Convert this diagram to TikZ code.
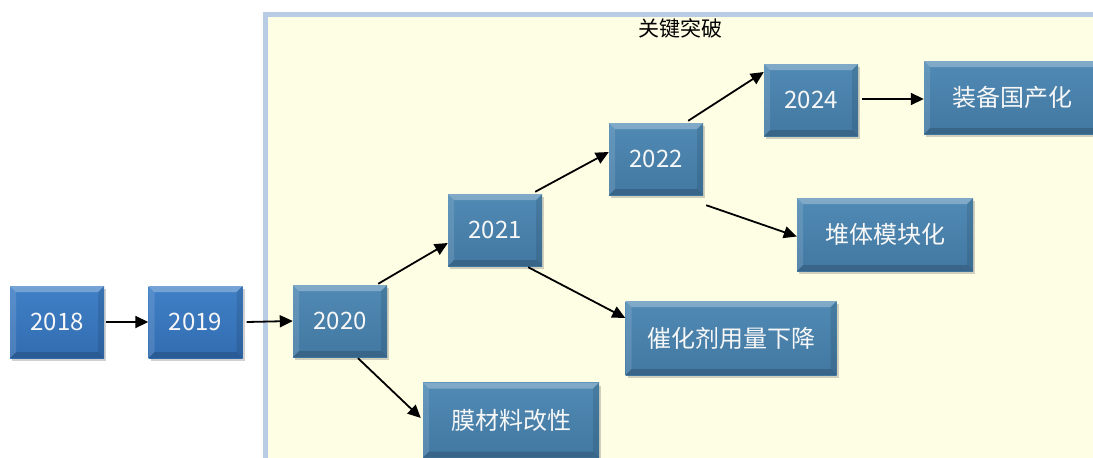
\documentclass[tikz,border=0pt]{standalone}
\usepackage{fontspec}
\newfontfamily\cjk{Noto Sans CJK SC}
\usetikzlibrary{arrows.meta,shadows}
\definecolor{blueA}{RGB}{64,128,198}
\definecolor{blueAd}{RGB}{50,108,176}
\definecolor{blueB}{RGB}{80,138,180}
\definecolor{blueBd}{RGB}{66,120,162}
\definecolor{panelfill}{RGB}{254,254,228}
\definecolor{panelline}{RGB}{184,204,230}
\tikzset{
  bevel/.style={path picture={
    \fill[white,opacity=.28] (path picture bounding box.north west) -- (path picture bounding box.north east) -- ([shift={(-6pt,-6pt)}]path picture bounding box.north east) -- ([shift={(6pt,-6pt)}]path picture bounding box.north west) -- cycle;
    \fill[white,opacity=.12] (path picture bounding box.north west) -- (path picture bounding box.south west) -- ([shift={(6pt,6pt)}]path picture bounding box.south west) -- ([shift={(6pt,-6pt)}]path picture bounding box.north west) -- cycle;
    \fill[black,opacity=.16] (path picture bounding box.south west) -- (path picture bounding box.south east) -- ([shift={(-6pt,6pt)}]path picture bounding box.south east) -- ([shift={(6pt,6pt)}]path picture bounding box.south west) -- cycle;
    \fill[black,opacity=.10] (path picture bounding box.north east) -- (path picture bounding box.south east) -- ([shift={(-6pt,6pt)}]path picture bounding box.south east) -- ([shift={(-6pt,-6pt)}]path picture bounding box.north east) -- cycle;
  }},
  boxbase/.style={bevel, inner sep=0pt, text=white!94!gray, font=\cjk\fontsize{24}{27}\selectfont,
    drop shadow={shadow xshift=2pt, shadow yshift=-3pt, opacity=.30, fill=black!60}},
  yearA/.style={boxbase, top color=blueA, bottom color=blueAd, minimum width=94pt, minimum height=72pt},
  yearB/.style={boxbase, top color=blueB, bottom color=blueBd, minimum width=94pt, minimum height=72pt},
  itembox/.style={boxbase, top color=blueB, bottom color=blueBd, minimum height=73pt},
  arr/.style={draw=black, line width=1.8pt, -{Triangle[length=13pt,width=12pt]}},
}
\begin{document}
\begin{tikzpicture}[x=1pt,y=-1pt]
\useasboundingbox (0,0) rectangle (1093,458);
\clip (0,0) rectangle (1093,458);
\fill[white] (0,0) rectangle (1093,458);
\draw[panelline, line width=5pt, fill=panelfill] (265,14) rectangle (1110,480);
\node[font=\cjk\fontsize{21}{24}\selectfont, text=black] (title) at (680,28) {关键突破};

\node[yearA] (y18) at (57,322) {2018};
\node[yearA] (y19) at (195.5,322) {2019};
\node[yearB] (y20) at (340,321) {2020};
\node[yearB] (y21) at (495,230) {2021};
\node[yearB] (y22) at (656,159) {2022};
\node[yearB] (y24) at (811,100) {2024};
\node[itembox, minimum width=176pt] (zb) at (1012,97.5) {装备国产化};
\node[itembox, minimum width=176pt] (dt) at (885,234.5) {堆体模块化};
\node[itembox, minimum width=211pt, minimum height=74pt] (ch) at (731,338) {催化剂用量下降};
\node[itembox, minimum width=176pt, minimum height=75pt] (mo) at (511,420) {膜材料改性};

\draw[arr] ([xshift=2pt]y18.east) -- (y19.west);
\draw[arr] ([xshift=4pt]y19.east) -- (y20.west);
\draw[arr] ([xshift=-9pt,yshift=1pt]y20.north east) -- ([yshift=-13pt]y21.west);
\draw[arr] ([xshift=-7pt,yshift=2pt]y21.north east) -- ([yshift=7pt]y22.west);
\draw[arr] ([xshift=-15pt,yshift=2pt]y22.north east) -- ([yshift=28pt]y24.west);
\draw[arr] ([xshift=4pt,yshift=1pt]y24.east) -- ([yshift=1pt]y24.east -| zb.west);
\draw[arr] ([xshift=3pt,yshift=-10pt]y22.south east) -- ([yshift=-2pt]dt.west);
\draw[arr] ([xshift=-14pt,yshift=-1pt]y21.south east) -- ([yshift=20pt]ch.west);
\draw[arr] ([xshift=18pt,yshift=-1pt]y20.south) -- ([xshift=-2pt,yshift=2pt]mo.west);
\end{tikzpicture}
\end{document}
